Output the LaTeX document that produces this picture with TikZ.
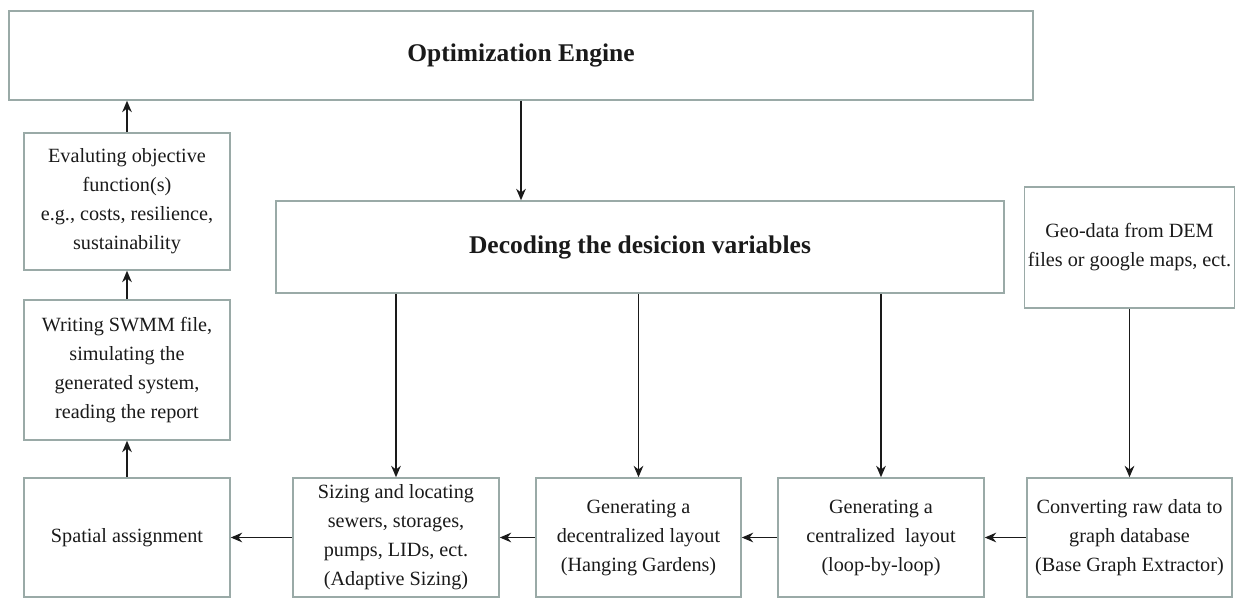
\documentclass[tikz,border=0pt]{standalone}
\usepackage{fontspec}
\setmainfont{Liberation Serif}
\usetikzlibrary{arrows.meta,positioning}
\definecolor{edge}{HTML}{9AAAA7}
\definecolor{ink}{HTML}{1A1A1A}

\begin{document}
\begin{tikzpicture}[>={Stealth[length=6.5pt,width=5.5pt]},text=ink]
  \tikzset{flowbox/.style={draw=edge,line width=0.9pt,align=center,fill=white,minimum width=4.12cm,font=\fontsize{11.5}{16.5}\selectfont,inner sep=2pt},
    titlebox/.style={flowbox,font=\fontsize{14.5}{16}\selectfont\bfseries},
    flow/.style={ink,line width=0.7pt,->}}
  \useasboundingbox (0,0) rectangle (24.76,-11.98);
  \node[titlebox,minimum width=20.48cm,minimum height=1.78cm] (engine) at (10.42,-1.11) {Optimization Engine};
  \node[titlebox,minimum width=14.56cm,minimum height=1.84cm] (decode) at (12.80,-4.94) {Decoding the desicion variables};
  \node[flowbox,minimum width=4.10cm,minimum height=2.42cm] (geo) at (22.59,-4.95) {Geo-data from DEM\\files or google maps, ect.};
  \node[flowbox,minimum height=2.74cm] (evaluate) at (2.54,-4.03) {Evaluting objective\\function(s)\\e.g., costs, resilience,\\sustainability};
  \node[flowbox,minimum height=2.80cm] (swmm) at (2.54,-7.40) {Writing SWMM file,\\simulating the\\generated system,\\reading the report};
  \node[flowbox,minimum height=2.38cm] (spatial) at (2.54,-10.75) {Spatial assignment};
  \node[flowbox,minimum height=2.38cm] (sizing) at (7.92,-10.75) {Sizing and locating\\sewers, storages,\\pumps, LIDs, ect.\\(Adaptive Sizing)};
  \node[flowbox,minimum width=4.10cm,minimum height=2.38cm] (hanging) at (12.77,-10.75) {Generating a\\decentralized layout\\(Hanging Gardens)};
  \node[flowbox,minimum height=2.38cm] (central) at (17.62,-10.75) {Generating a\\centralized~ layout\\(loop-by-loop)};
  \node[flowbox,minimum width=4.10cm,minimum height=2.38cm] (convert) at (22.59,-10.75) {Converting raw data to\\graph database\\(Base Graph Extractor)};
  % top loop
  \draw[flow] (engine.south) -- (engine.south |- decode.north);
  \draw[flow] (decode.south -| sizing.north) -- (sizing.north);
  \draw[flow] (decode.south -| hanging.north) -- (hanging.north);
  \draw[flow] (decode.south -| central.north) -- (central.north);
  \draw[flow] (geo) -- (convert);
  % bottom row
  \draw[flow] (convert) -- (central);
  \draw[flow] (central) -- (hanging);
  \draw[flow] (hanging) -- (sizing);
  \draw[flow] (sizing) -- (spatial);
  % left column
  \draw[flow] (spatial) -- (swmm);
  \draw[flow] (swmm) -- (evaluate);
  \draw[flow] (evaluate.north) -- (evaluate.north |- engine.south);
\end{tikzpicture}
\end{document}
